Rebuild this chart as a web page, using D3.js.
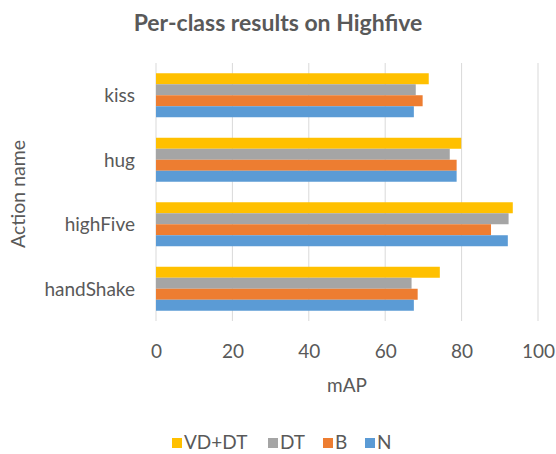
<!DOCTYPE html>
<html><head><meta charset="utf-8">
<script src="https://cdn.jsdelivr.net/npm/d3@7"></script>
<style>body{margin:0;background:#fff;} svg{display:block;font-family:Lato,"Open Sans",sans-serif;}</style>
</head><body>
<svg id="c" width="556" height="454"></svg>
<script>
const categories = ["kiss", "hug", "highFive", "handShake"];
const seriesNames = ["VD+DT", "DT", "B", "N"];
const seriesColors = ["#FFC000", "#A5A5A5", "#ED7D31", "#5B9BD5"];
const valuesVDDT = [71.4, 79.9, 93.4, 74.3];
const valuesDT = [68.0, 76.9, 92.3, 66.9];
const valuesB = [69.8, 78.7, 87.7, 68.5];
const valuesN = [67.5, 78.7, 92.1, 67.5];
const xTicks = [0, 20, 40, 60, 80, 100];
const seriesValues = [valuesVDDT, valuesDT, valuesB, valuesN];

const svg = d3.select("#c");
const pLeft = 156, pRight = 538, pTop = 63, pBottom = 321;
const x = d3.scaleLinear().domain([0, 100]).range([pLeft, pRight]);
const y = d3.scaleBand().domain(categories).range([pTop, pBottom]).paddingInner(0.318).paddingOuter(0.159);
const ys = d3.scaleBand().domain(seriesNames).range([0, y.bandwidth()]);
const textColor = "#595959";
const fs = 19;

// gridlines
svg.append("g").selectAll("line").data(xTicks).join("line")
  .attr("x1", d => x(d)).attr("x2", d => x(d))
  .attr("y1", pTop).attr("y2", pBottom)
  .attr("stroke", "#D9D9D9").attr("stroke-width", 1);

// bars
categories.forEach((cat, ci) => {
  seriesNames.forEach((s, si) => {
    svg.append("rect")
      .attr("x", x(0)).attr("y", y(cat) + ys(s))
      .attr("width", x(seriesValues[si][ci]) - x(0))
      .attr("height", ys.bandwidth())
      .attr("fill", seriesColors[si]);
  });
});

// x axis labels
const xAxis = d3.axisBottom(x).tickValues(xTicks).tickSize(0).tickPadding(0);
const gx = svg.append("g").attr("transform", `translate(0,${pBottom})`).call(xAxis);
gx.select(".domain").remove();
gx.selectAll("text").attr("y", 37).attr("dy", 0).attr("font-size", fs).attr("fill", textColor).attr("font-family", "Lato");

// y axis labels
const yAxis = d3.axisLeft(y).tickSize(0).tickPadding(0);
const gy = svg.append("g").attr("transform", `translate(135,0)`).call(yAxis);
gy.select(".domain").remove();
gy.selectAll("text").attr("font-size", fs).attr("fill", textColor).attr("font-family", "Lato").attr("dy", 7);

// title
svg.append("text").attr("x", 278).attr("y", 31).attr("text-anchor", "middle")
  .attr("font-size", 23).attr("font-weight", "bold").attr("fill", textColor).text("Per-class results on Highfive");

// axis titles
svg.append("text").attr("x", 347).attr("y", 392).attr("text-anchor", "middle")
  .attr("font-size", fs).attr("fill", textColor).text("mAP");
svg.append("text").attr("transform", "translate(25,194) rotate(-90)").attr("text-anchor", "middle")
  .attr("font-size", 19.5).attr("fill", textColor).text("Action name");

// legend
const legendX = [172, 268, 323, 365];
const lg = svg.append("g");
seriesNames.forEach((s, i) => {
  lg.append("rect").attr("x", legendX[i]).attr("y", 438).attr("width", 10).attr("height", 10).attr("fill", seriesColors[i]);
  lg.append("text").attr("x", legendX[i] + 12).attr("y", 449).attr("font-size", fs).attr("fill", textColor).text(s);
});
</script>
</body></html>
